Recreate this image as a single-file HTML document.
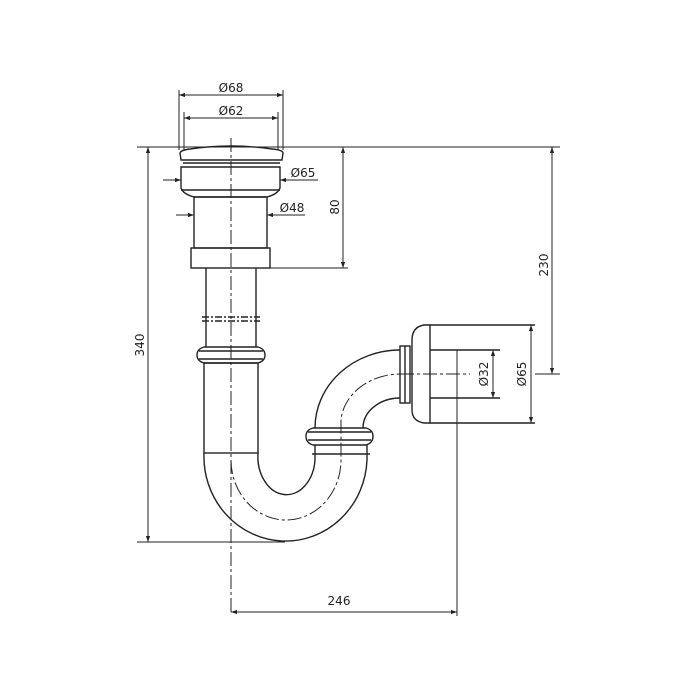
<!DOCTYPE html>
<html><head><meta charset="utf-8"><style>html,body{margin:0;padding:0;background:#fff}svg{display:block}</style></head><body>
<svg width="700" height="700" viewBox="0 0 700 700" xmlns="http://www.w3.org/2000/svg">
<defs>
<marker id="a" viewBox="0 0 10 10" refX="10" refY="5" markerWidth="9" markerHeight="6" orient="auto-start-reverse" markerUnits="userSpaceOnUse"><path d="M0,1.5 L10,5 L0,8.5 Z" fill="#222"/></marker>
</defs>
<g fill="none" stroke="#222" stroke-width="1.4">
<path d="M181,160 L180,153 Q181,150 190,149 Q231,143 272,149 Q283,150 283,153 L282,160 Z"/>
<line x1="183" y1="163" x2="280" y2="163"/>
<path d="M181,167 L280,167 L280,188 Q278,194 267,197 L194,197 Q183,194 181,188 Z"/>
<line x1="181" y1="190" x2="280" y2="190"/>
<rect x="194" y="197" width="73" height="51"/>
<rect x="191" y="248" width="79" height="20"/>
<line x1="206" y1="268" x2="206" y2="347"/>
<line x1="256" y1="268" x2="256" y2="347"/>
<path d="M202,317 L260,317 M202,321 L260,321" stroke-dasharray="7,2,2,2"/>
<path d="M204,347 L258,347 Q265,349 265,355 Q265,361 258,363 L204,363 Q197,361 197,355 Q197,349 204,347 Z"/>
<line x1="199" y1="351" x2="263" y2="351"/>
<line x1="199" y1="359" x2="263" y2="359"/>
<rect x="204" y="363" width="54" height="90"/>
<path d="M204,453 A81,84 0 0 0 367,460"/>
<path d="M258,453 A28.5,38 0 0 0 315,460"/>
<line x1="315" y1="445" x2="315" y2="460"/><line x1="367" y1="445" x2="367" y2="460"/>
<path d="M231,460 A55,60 0 0 0 341,460 L341,420 A60,50 0 0 1 400,374" stroke-dasharray="14,3,3,3" stroke-width="1"/>
<path d="M313,428 L366,428 Q373,430 373,436 Q373,443 366,445 L313,445 Q306,443 306,436 Q306,430 313,428 Z"/>
<line x1="308" y1="432" x2="371" y2="432"/><line x1="308" y1="440" x2="371" y2="440"/>
<line x1="312" y1="454" x2="370" y2="454"/>
<path d="M315,428 A85,78 0 0 1 400,350"/>
<path d="M363,428 A37,30 0 0 1 400,398"/>
<rect x="400" y="346" width="10" height="57"/>
<line x1="405" y1="346" x2="405" y2="403"/>
<path d="M430,325 L424,325 Q412,327 412,340 L412,410 Q412,421 424,423 L430,423 Z"/>
<line x1="430" y1="325" x2="535" y2="325"/>
<line x1="430" y1="423" x2="535" y2="423"/>
<line x1="430" y1="350" x2="500" y2="350"/>
<line x1="430" y1="398" x2="500" y2="398"/>
</g>
<g stroke="#222" stroke-width="1" fill="none">
<line x1="231" y1="138" x2="231" y2="612" stroke-dasharray="14,3,3,3"/>
<line x1="400" y1="374" x2="470" y2="374" stroke-dasharray="14,3,3,3"/>
<line x1="137" y1="147" x2="560" y2="147"/>
<line x1="179" y1="90" x2="179" y2="150"/><line x1="283" y1="90" x2="283" y2="150"/>
<line x1="184" y1="112" x2="184" y2="150"/><line x1="278" y1="112" x2="278" y2="150"/>
<line x1="270" y1="268" x2="348" y2="268"/>
<line x1="137" y1="542" x2="285" y2="542"/>
<line x1="457" y1="350" x2="457" y2="616"/>
<line x1="535" y1="374" x2="560" y2="374"/>
<line x1="179" y1="95" x2="283" y2="95" marker-start="url(#a)" marker-end="url(#a)"/>
<line x1="184" y1="118" x2="278" y2="118" marker-start="url(#a)" marker-end="url(#a)"/>
<line x1="163" y1="180" x2="181" y2="180" marker-end="url(#a)"/>
<line x1="318" y1="180" x2="280" y2="180" marker-end="url(#a)"/>
<line x1="176" y1="215" x2="194" y2="215" marker-end="url(#a)"/>
<line x1="305" y1="215" x2="267" y2="215" marker-end="url(#a)"/>
<line x1="343" y1="147" x2="343" y2="268" marker-start="url(#a)" marker-end="url(#a)"/>
<line x1="148" y1="147" x2="148" y2="542" marker-start="url(#a)" marker-end="url(#a)"/>
<line x1="552" y1="147" x2="552" y2="374" marker-start="url(#a)" marker-end="url(#a)"/>
<line x1="493" y1="350" x2="493" y2="398" marker-start="url(#a)" marker-end="url(#a)"/>
<line x1="531" y1="325" x2="531" y2="423" marker-start="url(#a)" marker-end="url(#a)"/>
<line x1="231" y1="612" x2="457" y2="612" marker-start="url(#a)" marker-end="url(#a)"/>
</g>
<g font-family="'DejaVu Sans', 'Liberation Sans', sans-serif" font-size="12" fill="#222">
<text x="231" y="92" text-anchor="middle">Ø68</text>
<text x="231" y="115" text-anchor="middle">Ø62</text>
<text x="303" y="177" text-anchor="middle">Ø65</text>
<text x="292" y="212" text-anchor="middle">Ø48</text>
<text x="339" y="605" text-anchor="middle">246</text>
<text transform="translate(339,207) rotate(-90)" text-anchor="middle">80</text>
<text transform="translate(144,345) rotate(-90)" text-anchor="middle">340</text>
<text transform="translate(548,265) rotate(-90)" text-anchor="middle">230</text>
<text transform="translate(488,374) rotate(-90)" text-anchor="middle">Ø32</text>
<text transform="translate(526,374) rotate(-90)" text-anchor="middle">Ø65</text>
</g>
</svg>
</body></html>
